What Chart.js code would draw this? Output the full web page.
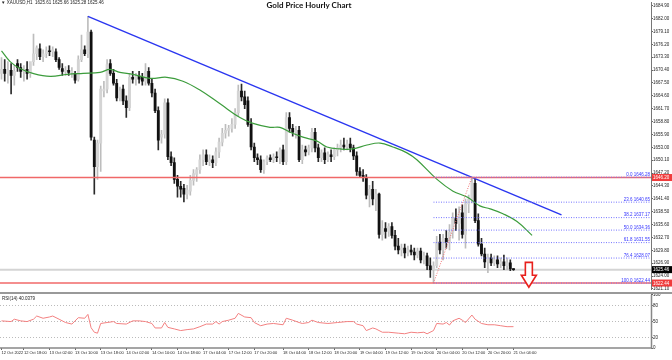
<!DOCTYPE html>
<html>
<head>
<meta charset="utf-8">
<script src="https://cdn.jsdelivr.net/npm/chart.js@4.4.0/dist/chart.umd.min.js"></script>
<style>
html, body { margin: 0; padding: 0; background: #fff; }
#wrap { position: relative; width: 672px; height: 360px; overflow: hidden; }
#price { position: absolute; left: 0; top: 0; }
#rsi { position: absolute; left: 0; top: 292px; }
</style>
</head>
<body>
<div id="wrap">
<canvas id="price" width="672" height="292"></canvas>
<canvas id="rsi" width="672" height="68"></canvas>
</div>
<script>
var title = "Gold Price Hourly Chart";
var symbol = "XAUUSD,H1";

// hourly candles, 12 Oct - 21 Oct 2022
var opens = [
1669.66,1670.54,1669.66,1670.32,1669.21,1671.87,1670.98,1670.10,1670.54,1669.66,
1672.31,1674.08,1675.18,1673.41,1674.08,1674.74,1674.52,1674.52,1672.75,1670.76,
1670.10,1670.32,1669.88,1669.66,1668.33,1672.75,1674.96,1674.08,1678.94,1654.62,
1648.66,1653.96,1665.68,1666.12,1671.87,1669.66,1667.44,1664.13,1666.12,1663.47,
1661.92,1668.77,1668.33,1668.99,1668.77,1667.89,1670.10,1667.44,1665.23,1661.26,
1655.29,1655.95,1663.02,1650.87,1649.54,1645.78,1644.24,1643.79,1642.47,1643.13,
1645.56,1646.90,1647.99,1650.20,1651.31,1649.76,1650.20,1649.54,1651.97,1654.18,
1656.17,1656.83,1657.28,1658.16,1660.81,1665.68,1664.35,1663.47,1658.16,1653.08,
1650.65,1650.20,1647.99,1649.76,1650.65,1650.20,1650.87,1650.65,1652.41,1649.76,
1659.71,1657.28,1656.39,1656.83,1650.20,1652.41,1651.97,1652.86,1656.39,1652.86,
1650.65,1651.75,1650.20,1651.31,1650.87,1652.41,1652.86,1653.52,1653.08,1653.74,
1652.86,1651.09,1647.55,1646.67,1646.22,1642.25,1643.57,1641.36,1642.47,1633.40,
1634.73,1634.07,1635.17,1633.18,1630.75,1629.87,1630.31,1629.20,1629.87,1629.43,
1628.76,1629.65,1627.66,1628.54,1626.33,1625.45,1626.33,1631.64,1629.87,1632.52,
1631.64,1633.85,1636.94,1635.84,1638.27,1633.40,1640.26,1641.36,1644.90,1636.50,
1631.19,1628.98,1627.22,1628.10,1626.99,1627.66,1626.77,1627.22,1626.33,1626.99,
1625.61];
var highs = [
1673.19,1672.75,1672.31,1671.87,1671.42,1672.75,1671.87,1671.42,1672.31,1671.87,
1678.50,1675.84,1676.29,1674.96,1675.62,1675.84,1675.62,1675.18,1673.19,1671.87,
1671.20,1671.42,1670.98,1670.10,1673.63,1678.28,1675.84,1682.48,1679.38,1655.29,
1654.62,1666.78,1667.89,1672.75,1672.75,1670.54,1668.33,1666.56,1667.00,1664.57,
1669.66,1670.10,1669.66,1670.10,1669.66,1671.87,1670.98,1668.33,1666.12,1662.14,
1656.83,1663.91,1663.91,1651.97,1650.65,1646.67,1645.34,1644.68,1644.46,1646.67,
1647.99,1648.44,1651.31,1652.41,1652.41,1651.31,1651.09,1652.86,1655.07,1657.28,
1658.16,1657.94,1659.49,1661.70,1667.00,1667.22,1665.68,1664.35,1659.49,1653.96,
1651.53,1651.09,1650.20,1651.09,1651.31,1651.53,1651.97,1652.86,1653.52,1660.81,
1660.81,1658.16,1657.72,1657.72,1653.52,1653.30,1653.52,1657.28,1657.28,1653.74,
1652.41,1652.86,1651.97,1652.41,1652.86,1653.74,1654.62,1655.07,1654.62,1655.07,
1653.52,1651.97,1648.44,1647.99,1646.89,1644.46,1645.34,1643.57,1642.69,1636.50,
1636.06,1635.84,1636.06,1634.29,1632.52,1631.19,1631.19,1630.75,1630.97,1630.31,
1630.31,1630.31,1629.43,1629.20,1628.10,1627.22,1632.96,1633.40,1633.40,1634.29,
1635.61,1638.27,1639.15,1639.59,1640.04,1641.36,1642.25,1646.28,1645.78,1638.05,
1632.52,1630.31,1628.98,1628.98,1628.54,1628.54,1628.10,1628.76,1628.10,1627.66,
1625.66];
var lows = [
1668.33,1667.89,1667.44,1665.01,1667.00,1670.10,1668.77,1667.89,1668.33,1668.77,
1671.42,1672.75,1672.75,1672.31,1673.19,1673.63,1673.41,1672.31,1670.54,1669.21,
1669.21,1669.21,1668.77,1667.44,1667.89,1672.31,1673.63,1673.19,1654.62,1642.47,
1645.78,1647.55,1664.35,1665.23,1669.21,1667.00,1663.47,1663.47,1662.58,1659.71,
1661.26,1667.44,1667.00,1667.44,1667.00,1667.00,1667.00,1664.35,1660.81,1652.41,
1653.96,1655.07,1650.20,1648.88,1644.90,1641.80,1641.80,1640.70,1641.36,1642.25,
1644.46,1645.34,1647.11,1648.88,1649.10,1648.88,1648.44,1648.88,1650.65,1653.30,
1655.07,1655.51,1656.39,1657.28,1659.93,1663.47,1661.70,1657.72,1652.41,1649.76,
1649.10,1647.33,1647.11,1649.10,1649.76,1649.54,1649.76,1649.32,1649.10,1649.10,
1656.39,1655.51,1655.07,1649.76,1649.32,1651.09,1651.31,1651.97,1651.97,1649.76,
1649.76,1649.32,1649.76,1649.76,1650.20,1651.09,1651.97,1652.41,1652.41,1651.97,
1650.20,1646.67,1646.22,1645.34,1641.36,1639.59,1640.04,1638.71,1632.52,1632.08,
1632.52,1632.96,1632.52,1629.87,1628.98,1628.54,1628.10,1628.54,1628.76,1627.66,
1628.10,1626.99,1626.77,1625.45,1623.68,1622.44,1625.89,1628.98,1627.66,1630.31,
1629.87,1632.52,1634.29,1632.08,1632.52,1630.31,1638.27,1640.48,1636.06,1630.75,
1628.54,1625.89,1624.78,1626.33,1626.33,1625.89,1625.89,1625.45,1625.45,1625.23,
1625.28];
var closes = [
1670.54,1669.66,1670.32,1669.21,1670.10,1670.98,1670.10,1670.54,1669.66,1672.31,
1674.08,1675.40,1673.41,1674.08,1674.74,1674.52,1674.96,1672.75,1670.98,1670.10,
1670.32,1669.88,1670.10,1668.11,1672.75,1674.96,1674.08,1678.94,1655.29,1648.66,
1653.96,1666.12,1666.12,1671.64,1669.66,1667.44,1664.13,1665.68,1663.47,1661.92,
1668.77,1668.33,1668.99,1668.33,1667.89,1670.10,1667.44,1665.23,1661.26,1654.62,
1655.95,1663.02,1650.87,1649.54,1645.78,1644.24,1643.57,1642.47,1643.35,1645.56,
1647.11,1647.99,1650.20,1651.31,1649.76,1650.20,1649.54,1651.97,1654.18,1656.17,
1656.83,1657.28,1658.16,1660.81,1665.68,1664.35,1662.58,1658.16,1653.08,1650.65,
1650.20,1647.99,1649.76,1650.65,1650.20,1650.87,1650.65,1652.41,1649.76,1659.71,
1657.28,1656.39,1656.83,1650.20,1652.41,1651.97,1652.86,1656.39,1652.86,1650.65,
1651.75,1650.20,1651.31,1650.87,1652.41,1652.86,1653.52,1653.08,1653.74,1652.86,
1651.09,1647.55,1646.67,1646.22,1642.25,1643.57,1641.36,1642.47,1633.40,1634.73,
1634.07,1635.17,1633.18,1630.75,1629.87,1630.31,1629.20,1629.87,1629.43,1628.76,
1629.65,1627.66,1628.54,1626.33,1625.45,1626.33,1631.64,1629.87,1632.52,1631.64,
1633.85,1636.94,1635.84,1638.27,1633.40,1640.26,1641.36,1645.12,1636.50,1631.19,
1628.98,1627.22,1628.10,1626.99,1627.66,1626.77,1627.22,1626.33,1626.99,1625.61,
1625.46];

// green moving average (shifted), bar index -> price
var maIdx = [0,2.7,5.8,9.8,15.2,20.5,25.5,30.8,33.9,37,41.1,46.4,51.7,56.7,62,68.3,74.5,78.6,83.9,87,
  90.2,94.2,98.6,101.7,105.8,109.8,114.2,118.3,122.3,126.7,129.8,136.1,141.1,145.5,149.5,152.7,156.7,161.1,165.8];
var maVal = [1674.74,1672.31,1670.76,1669.66,1668.99,1669.43,1669.66,1669.88,1670.54,1669.88,
  1669.43,1668.55,1668.77,1667.89,1665.90,1662.80,1659.71,1658.38,1657.50,1657.50,
  1656.39,1655.29,1654.40,1653.08,1652.64,1652.64,1653.52,1653.96,1653.08,1651.75,
  1650.20,1645.78,1643.13,1641.80,1639.82,1639.15,1638.05,1636.28,1633.18];

// blue trend line
var trendIdx = [27, 175];
var trendVal = [1682.48, 1637.80];

// red horizontal lines, fibonacci
var redLevels = [1646.20, 1622.44];
var fibHigh = 1646.28, fibLow = 1622.44, fibFrom = 135, fibTo = 147;
var fibRatios = [0, 23.6, 38.2, 50, 61.8, 76.4, 100];
var arrow = { idx: 164.8, top: 1627.1, neck: 1624.2, tip: 1621.5 };

var priceTicks = [1621.10,1624.00,1626.90,1629.80,1632.70,1635.60,1638.50,1641.40,1644.30,1647.20,
  1650.10,1653.00,1655.90,1658.80,1661.70,1664.60,1667.50,1670.40,1673.30,1676.20,1679.10,1682.00,1684.90];

// RSI(14)
var rsiIdx = [0,3,4,6,8,10,11,13,15,16,18,20,22,24,26,27,28,29,30,31,33,35,36,39,41,43,45,47,48,50,
  51,52,54,56,58,60,62,64,66,67,68,69,71,73,74,76,78,79,81,83,85,88,89,91,93,94,96,97,99,102,
  105,108,110,111,113,114,116,117,119,121,124,126,128,130,132,133,135,136,138,139,140,141,143,144,145,147,148,150,152,154,
  156,158,160];
var rsiVal = [50.9,49.6,54.0,50.9,49.6,54.0,60.0,55.8,58.2,60.0,54.0,47.8,44.9,56.9,55.8,63.1,38.0,29.6,27.8,46.0,
  47.8,49.6,46.0,44.9,50.9,50.9,49.6,46.0,37.6,37.6,47.8,38.7,35.8,32.7,34.5,35.8,40.0,44.9,44.9,49.6,
  44.9,49.6,52.2,55.8,64.9,58.2,56.9,47.8,41.8,44.9,46.0,43.6,55.8,52.2,47.8,46.0,47.8,52.2,47.8,46.0,
  47.8,49.6,49.6,44.9,41.8,32.7,37.6,35.8,29.6,29.6,27.8,26.7,29.6,28.5,29.6,26.7,32.7,46.0,44.9,47.8,
  43.1,50.9,55.8,52.2,47.8,61.8,54.0,46.0,43.6,43.6,41.8,40.0,40.0379];
var rsiTicks = [0, 20, 50, 80, 100];
var rsiLevels = [20, 50, 80];

var xTickIdx = [0,7,15,23,31,39,47,55,63,71,79,88,96,104,112,120,128,136,144,152,160];
var xTickText = ["12 Oct 2022","12 Oct 18:00","13 Oct 02:00","13 Oct 10:00","13 Oct 18:00","14 Oct 02:00",
  "14 Oct 10:00","14 Oct 18:00","17 Oct 04:00","17 Oct 12:00","17 Oct 20:00","18 Oct 04:00","18 Oct 12:00",
  "18 Oct 20:00","19 Oct 04:00","19 Oct 12:00","19 Oct 20:00","20 Oct 04:00","20 Oct 12:00","20 Oct 20:00","21 Oct 04:00"];

var X_MIN = -0.47, X_MAX = 202.97;
var small = '4.5px "Liberation Sans"';

function hline(ctx, x1, x2, y) {
    ctx.beginPath(); ctx.moveTo(x1, y); ctx.lineTo(x2, y); ctx.stroke();
}
function isUp(i) { return closes[i] >= opens[i]; }

var priceOverlay = {
    id: 'priceOverlay',
    beforeDatasetsDraw: function(chart) {
        var ctx = chart.ctx, a = chart.chartArea, y = chart.scales.y;
        ctx.save();
        ctx.strokeStyle = '#d4d4d4'; ctx.lineWidth = 2;
        hline(ctx, a.left, a.right, y.getPixelForValue(closes[closes.length - 1]));
        ctx.restore();
    },
    afterDatasetsDraw: function(chart) {
        var ctx = chart.ctx, a = chart.chartArea, x = chart.scales.x, y = chart.scales.y;
        ctx.save();
        ctx.strokeStyle = '#f06868'; ctx.lineWidth = 1.4;
        redLevels.forEach(function(v) { hline(ctx, a.left, a.right, y.getPixelForValue(v)); });

        var x0 = x.getPixelForValue(fibFrom);
        ctx.setLineDash([1, 1.5]);
        ctx.strokeStyle = '#7474ff'; ctx.lineWidth = 1;
        ctx.font = small; ctx.fillStyle = '#3434ff';
        ctx.textAlign = 'right'; ctx.textBaseline = 'bottom';
        fibRatios.forEach(function(r) {
            var v = fibHigh - (fibHigh - fibLow) * r / 100;
            var py = y.getPixelForValue(v);
            hline(ctx, x0, a.right, py);
            ctx.fillText(r.toFixed(1) + ' ' + v.toFixed(2), a.right - 1, py - 0.5);
        });
        ctx.strokeStyle = '#f07070';
        ctx.beginPath();
        ctx.moveTo(x0, y.getPixelForValue(fibLow));
        ctx.lineTo(x.getPixelForValue(fibTo), y.getPixelForValue(fibHigh));
        ctx.stroke();
        ctx.setLineDash([]);

        // down arrow
        var cx = x.getPixelForValue(arrow.idx), t = y.getPixelForValue(arrow.top),
            n = y.getPixelForValue(arrow.neck), p = y.getPixelForValue(arrow.tip);
        ctx.beginPath();
        ctx.moveTo(cx - 3.5, t); ctx.lineTo(cx + 3.5, t); ctx.lineTo(cx + 3.5, n);
        ctx.lineTo(cx + 7.5, n); ctx.lineTo(cx, p); ctx.lineTo(cx - 7.5, n);
        ctx.lineTo(cx - 3.5, n); ctx.closePath();
        ctx.fillStyle = '#fff'; ctx.fill();
        ctx.strokeStyle = '#e8201c'; ctx.lineWidth = 1.6; ctx.stroke();
        ctx.restore();
    },
    afterDraw: function(chart) {
        var ctx = chart.ctx, a = chart.chartArea, y = chart.scales.y;
        var last = closes.length - 1;
        function tag(v, bg) {
            var py = y.getPixelForValue(v);
            ctx.fillStyle = bg; ctx.fillRect(a.right + 1, py - 3.5, 21, 7);
            ctx.fillStyle = '#fff'; ctx.font = small;
            ctx.textAlign = 'left'; ctx.textBaseline = 'middle';
            ctx.fillText(v.toFixed(2), a.right + 2, py + 0.3);
        }
        ctx.save();
        redLevels.forEach(function(v) { tag(v, '#f03c3c'); });
        tag(closes[last], '#000');

        ctx.fillStyle = '#111'; ctx.font = 'bold 8px Lato';
        ctx.textAlign = 'center'; ctx.textBaseline = 'middle';
        ctx.fillText(title, 309, 5.5);

        ctx.fillStyle = '#222'; ctx.font = small;
        ctx.textAlign = 'left'; ctx.textBaseline = 'top';
        ctx.fillText('\u25BC ' + symbol + '  ' + [opens[last], highs[last], lows[last], closes[last]]
            .map(function(v) { return v.toFixed(2); }).join(' '), 1, 0.5);
        ctx.restore();
    }
};

new Chart(document.getElementById('price'), {
    type: 'bar',
    data: {
        datasets: [
            {
                type: 'line', order: 0,
                data: maIdx.map(function(v, i) { return { x: v, y: maVal[i] }; }),
                borderColor: '#3c9c3c', borderWidth: 1.2, pointRadius: 0, tension: 0.4
            },
            {
                type: 'line', order: 0,
                data: trendIdx.map(function(v, i) { return { x: v, y: trendVal[i] }; }),
                borderColor: '#2a36f0', borderWidth: 1.4, pointRadius: 0
            },
            {
                order: 1, grouped: false, barThickness: 2.2, minBarLength: 1,
                data: opens.map(function(o, i) { return { x: i, y: [o, closes[i]] }; }),
                backgroundColor: function(c) { return isUp(c.dataIndex) ? '#d4d4d4' : '#111'; },
                borderWidth: 0
            },
            {
                order: 2, grouped: false, barThickness: 1,
                data: lows.map(function(l, i) { return { x: i, y: [l, highs[i]] }; }),
                backgroundColor: function(c) { return isUp(c.dataIndex) ? '#bdbdbd' : '#2a2a2a'; },
                borderWidth: 0
            }
        ]
    },
    options: {
        responsive: false, animation: false, devicePixelRatio: 1,
        layout: { padding: 0, autoPadding: false },
        plugins: { legend: { display: false }, tooltip: { enabled: false } },
        scales: {
            x: { type: 'linear', min: X_MIN, max: X_MAX, display: false, offset: false },
            y: {
                position: 'right', min: 1621.03, max: 1685.57,
                afterFit: function(s) { s.width = 21; },
                afterBuildTicks: function(s) { s.ticks = priceTicks.map(function(v) { return { value: v }; }); },
                ticks: { font: { size: 4.5, family: 'Liberation Sans' }, color: '#222', padding: 0,
                         callback: function(v) { return Number(v).toFixed(2); } },
                grid: { drawOnChartArea: false, tickLength: 2, color: '#666' },
                border: { color: '#777', width: 1 }
            }
        }
    },
    plugins: [priceOverlay]
});

var rsiOverlay = {
    id: 'rsiOverlay',
    beforeDatasetsDraw: function(chart) {
        var ctx = chart.ctx, a = chart.chartArea, y = chart.scales.y;
        ctx.save();
        ctx.setLineDash([1, 2]); ctx.strokeStyle = '#bbb'; ctx.lineWidth = 1;
        rsiLevels.forEach(function(v) { hline(ctx, a.left, a.right, Math.round(y.getPixelForValue(v)) + 0.5); });
        ctx.restore();
    },
    afterDraw: function(chart) {
        var ctx = chart.ctx, a = chart.chartArea;
        ctx.save();
        ctx.strokeStyle = '#999'; ctx.lineWidth = 2;
        hline(ctx, 0, chart.width, 1);
        ctx.strokeStyle = '#888'; ctx.lineWidth = 1.5;
        ctx.beginPath();
        ctx.moveTo(a.right + 0.5, a.top); ctx.lineTo(a.right + 0.5, a.bottom); ctx.lineTo(a.left, a.bottom);
        ctx.stroke();
        ctx.fillStyle = '#222'; ctx.font = small;
        ctx.textAlign = 'left'; ctx.textBaseline = 'top';
        ctx.fillText('RSI(14) ' + rsiVal[rsiVal.length - 1].toFixed(4), 2, a.top + 1.5);
        ctx.restore();
    }
};

new Chart(document.getElementById('rsi'), {
    type: 'line',
    data: {
        datasets: [{
            data: rsiIdx.map(function(v, i) { return { x: v, y: rsiVal[i] }; }),
            borderColor: '#f38080', borderWidth: 1, pointRadius: 0, tension: 0
        }]
    },
    options: {
        responsive: false, animation: false, devicePixelRatio: 1,
        layout: { padding: { top: 2, left: 0, right: 0, bottom: 0 }, autoPadding: false },
        plugins: { legend: { display: false }, tooltip: { enabled: false } },
        scales: {
            x: {
                type: 'linear', min: X_MIN, max: X_MAX,
                afterFit: function(s) { s.height = 12; },
                afterBuildTicks: function(s) { s.ticks = xTickIdx.map(function(v) { return { value: v }; }); },
                ticks: { autoSkip: false, maxRotation: 0, align: 'start', padding: 0,
                         font: { size: 4, family: 'Liberation Sans' }, color: '#222',
                         callback: function(v, i) { return xTickText[i]; } },
                grid: { drawOnChartArea: false, tickLength: 2, color: '#666' },
                border: { display: false }
            },
            y: {
                position: 'right', min: 0, max: 100,
                afterFit: function(s) { s.width = 21; },
                afterBuildTicks: function(s) { s.ticks = rsiTicks.map(function(v) { return { value: v }; }); },
                ticks: { font: { size: 4.5, family: 'Liberation Sans' }, color: '#222', padding: 0 },
                grid: { drawOnChartArea: false, tickLength: 2, color: '#666' },
                border: { display: false }
            }
        }
    },
    plugins: [rsiOverlay]
});
</script>
</body>
</html>
